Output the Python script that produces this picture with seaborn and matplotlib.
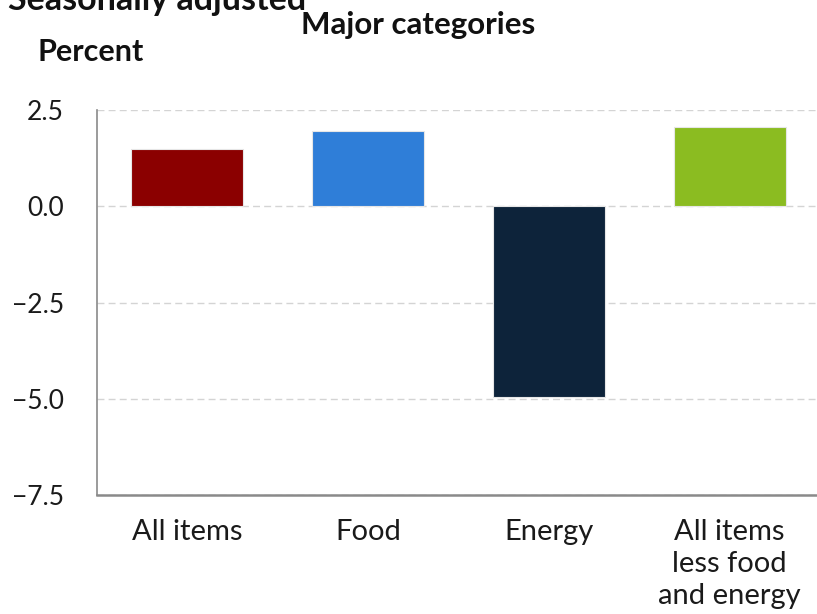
import matplotlib
matplotlib.use("Agg")
import matplotlib.pyplot as plt
import seaborn as sns
import pandas as pd

# Data
categories = ["All items", "Food", "Energy", "All items\nless food\nand energy"]
pct_change = [1.5, 1.96, -4.96, 2.07]
bar_colors = ["#8b0000", "#2f7ed8", "#0d233a", "#8bbc21"]
y_ticks = [-7.5, -5.0, -2.5, 0.0, 2.5]

df = pd.DataFrame({"category": categories, "pct": pct_change})

sns.set_style("white")
plt.rcParams["font.family"] = ["Lato", "DejaVu Sans"]

fig = plt.figure(figsize=(8.17, 6.14), dpi=100)
ax = fig.add_axes([97 / 817, 119 / 614, 723 / 817, 385 / 614])

sns.barplot(data=df, x="category", y="pct", hue="category", palette=bar_colors,
            order=categories, width=0.62, saturation=1, edgecolor="#e6e6e6",
            linewidth=0.8, legend=False, ax=ax)

ax.set_ylim(-7.5, 2.5)
ax.set_xlim(-0.5, 3.5)
ax.set_yticks(y_ticks)
ax.set_yticklabels([f"{v:.1f}".replace("-", "\u2212") for v in y_ticks])
ax.set_xlabel("")
ax.set_ylabel("")

# dashed gridlines behind the bars
ax.set_axisbelow(True)
ax.yaxis.grid(True, linestyle=(0, (5, 3)), color="#d4d4d4", linewidth=1)

for s in ["top", "right"]:
    ax.spines[s].set_visible(False)
ax.spines["left"].set_color("#8a8a8a")
ax.spines["left"].set_linewidth(1.2)
ax.spines["bottom"].set_color("#8a8a8a")
ax.spines["bottom"].set_linewidth(1.8)

# category separators under the axis
ax.set_xticks([-0.5, 0.5, 1.5, 2.5, 3.5], minor=True)
ax.tick_params(axis="x", which="minor", length=16, width=1, color="#c5d1e3", direction="out")
ax.tick_params(axis="x", which="major", length=0, pad=17, labelsize=21, labelcolor="#1a1a1a")
ax.tick_params(axis="y", length=0, pad=24, labelsize=19, labelcolor="#1a1a1a")
for lbl in ax.get_xticklabels():
    lbl.set_linespacing(1.3)

fig.text(8 / 817, 1.0, "Seasonally adjusted", fontsize=24.5, fontweight="bold",
         ha="left", va="center", color="#111111")
fig.text(418 / 817, 1 - 25 / 614, "Major categories", fontsize=22.5, fontweight="bold",
         ha="center", va="center", color="#111111")
fig.text(38 / 817, 1 - 52 / 614, "Percent", fontsize=22, fontweight="bold",
         ha="left", va="center", color="#111111")

fig.savefig("out.png", dpi=100)
